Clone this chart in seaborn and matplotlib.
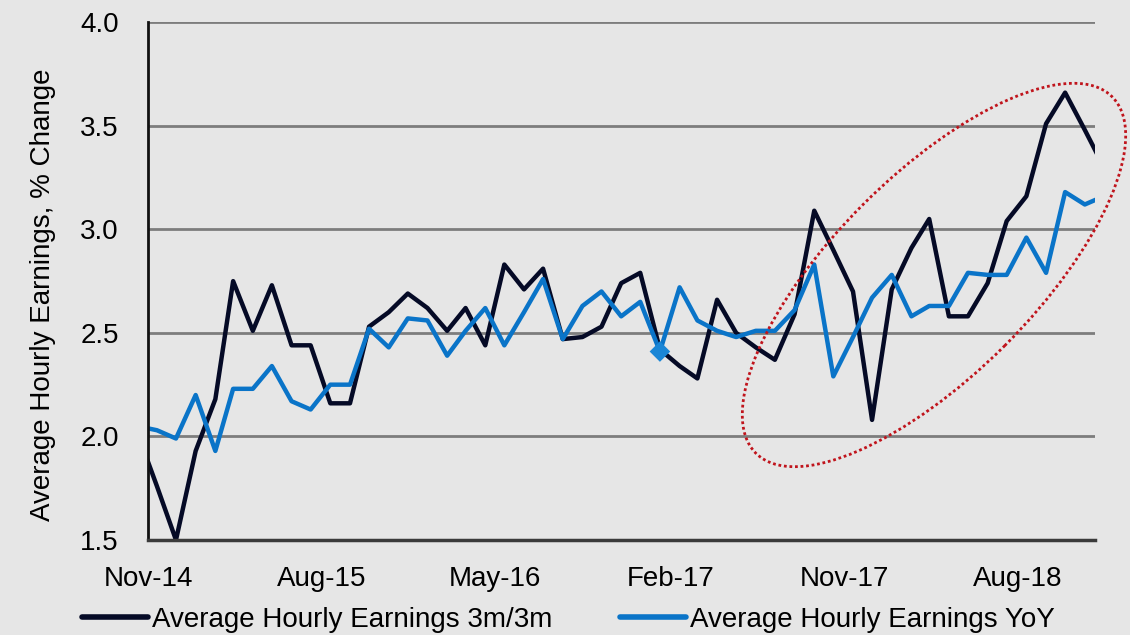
import numpy as np
import pandas as pd

import matplotlib
matplotlib.use("Agg")
import matplotlib.pyplot as plt
import matplotlib.dates as mdates
from matplotlib.patches import Ellipse
import seaborn as sns

# monthly observations, Oct-14 .. Dec-18 (plotted mid-month)
months = pd.date_range("2014-10-01", "2018-12-01", freq="MS") + pd.Timedelta(days=14)

ahe_3m3m = [2.02, 1.76, 1.50,
            1.93, 2.18, 2.75, 2.51, 2.73, 2.44, 2.44, 2.16, 2.16, 2.53, 2.60, 2.69,
            2.62, 2.51, 2.62, 2.44, 2.83, 2.71, 2.81, 2.47, 2.48, 2.53, 2.74, 2.79,
            2.42, 2.34, 2.28, 2.66, 2.50, 2.43, 2.37, 2.59, 3.09, 2.90, 2.70, 2.08,
            2.71, 2.91, 3.05, 2.58, 2.58, 2.74, 3.04, 3.16, 3.51, 3.66, 3.48, 3.30]

ahe_yoy = [2.05, 2.03, 1.99,
           2.20, 1.93, 2.23, 2.23, 2.34, 2.17, 2.13, 2.25, 2.25, 2.52, 2.43, 2.57,
           2.56, 2.39, 2.51, 2.62, 2.44, 2.60, 2.76, 2.47, 2.63, 2.70, 2.58, 2.65,
           2.41, 2.72, 2.56, 2.51, 2.48, 2.51, 2.51, 2.61, 2.83, 2.29, 2.48, 2.67,
           2.78, 2.58, 2.63, 2.63, 2.79, 2.78, 2.78, 2.96, 2.79, 3.18, 3.12, 3.16]

series_names = ["Average Hourly Earnings 3m/3m", "Average Hourly Earnings YoY"]
colors = {series_names[0]: "#050a26", series_names[1]: "#0a74c8"}

# single highlighted point on the YoY line
marker_month = pd.Timestamp("2017-01-15")

df = pd.concat([
    pd.DataFrame({"date": months, "value": ahe_3m3m, "series": series_names[0]}),
    pd.DataFrame({"date": months, "value": ahe_yoy, "series": series_names[1]}),
], ignore_index=True)

sns.set_theme(style="white")
plt.rcParams["font.family"] = ["Liberation Sans", "DejaVu Sans"]
bg = "#e6e6e6"
txt = "#000000"

fig = plt.figure(figsize=(11.3, 6.35), dpi=100, facecolor=bg)
ax = fig.add_axes([0.131, 0.1496, 0.838, 0.8154], facecolor=bg)

sns.lineplot(data=df, x="date", y="value", hue="series", palette=colors,
             linewidth=3.2, ax=ax, legend=False)
pt = df[(df["series"] == series_names[1]) & (df["date"] == marker_month)]
sns.scatterplot(data=pt, x="date", y="value", marker="D", s=110,
                color="#1a86d6", edgecolor="none", ax=ax, zorder=5)

ax.set_xlim(pd.Timestamp("2014-11-01"), pd.Timestamp("2018-12-01"))
ax.set_ylim(1.5, 4.0)
ax.set_yticks(np.arange(1.5, 4.01, 0.5))
ax.set_xticks(pd.date_range("2014-11-01", periods=6, freq="9MS"))
ax.xaxis.set_major_formatter(mdates.DateFormatter("%b-%y"))

ax.yaxis.grid(True, color="#7d7d7d", linewidth=2)
ax.xaxis.grid(False)
ax.set_axisbelow(True)

for s in ["top", "right"]:
    ax.spines[s].set_visible(False)
ax.spines["left"].set_color("#111111")
ax.spines["left"].set_linewidth(2)
ax.spines["bottom"].set_color("#3a3a3a")
ax.spines["bottom"].set_linewidth(2.5)

ax.tick_params(axis="y", direction="out", length=8, width=1.5, color="#7d7d7d",
               labelsize=20, pad=13, labelcolor=txt)
ax.tick_params(axis="x", direction="out", length=6, width=1.5, color="#3a3a3a",
               labelsize=20, pad=13, labelcolor=txt)

ax.set_xlabel("")
ax.set_ylabel("Average Hourly Earnings, % Change", fontsize=20, color=txt, va="center")
ax.yaxis.set_label_coords(-0.111, 0.473)

# red dotted ellipse around the recent pick-up (figure inches)
ell = Ellipse((9.34, 3.60), 5.04, 2.0, angle=45, transform=fig.dpi_scale_trans,
              fill=False, edgecolor="#c0141c", linestyle=(0, (1, 1)), linewidth=2,
              clip_on=False)
fig.add_artist(ell)

handles = [plt.Line2D([], [], color=colors[n], linewidth=4) for n in series_names]
fig.legend(handles, series_names, loc="center", bbox_to_anchor=(0.503, 0.024),
           ncol=2, frameon=False, fontsize=20, handlelength=2.4, handletextpad=0.15,
           columnspacing=2.4, labelcolor=txt)

fig.savefig("out.png", dpi=100, facecolor=bg)
